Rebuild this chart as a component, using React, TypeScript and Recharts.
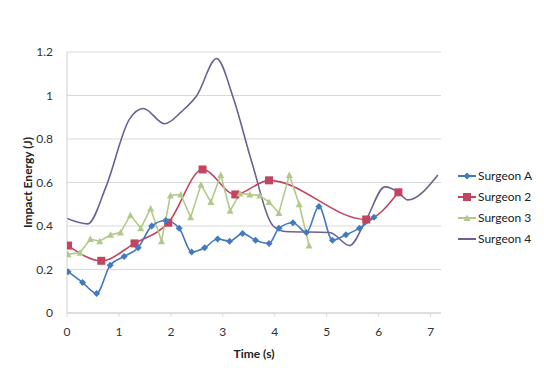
import { LineChart, Line, XAxis, YAxis, CartesianGrid } from 'recharts';

const FONT = 'Lato, "Open Sans", sans-serif';

const surgeonATime = [0.02, 0.3, 0.57, 0.83, 1.1, 1.37, 1.63, 1.9, 2.16, 2.4, 2.65, 2.9, 3.13, 3.38, 3.63, 3.89, 4.08, 4.35, 4.61, 4.85, 5.11, 5.37, 5.63, 5.91];
const surgeonAEnergy = [0.19, 0.14, 0.09, 0.22, 0.26, 0.3, 0.4, 0.425, 0.39, 0.28, 0.3, 0.34, 0.33, 0.365, 0.335, 0.32, 0.39, 0.415, 0.37, 0.49, 0.335, 0.36, 0.39, 0.44];

const surgeon2Time = [0.02, 0.66, 1.3, 1.95, 2.61, 3.24, 3.89, 5.76, 6.38];
const surgeon2Energy = [0.31, 0.24, 0.32, 0.415, 0.66, 0.545, 0.61, 0.43, 0.555];

const surgeon3Time = [0.02, 0.25, 0.45, 0.63, 0.84, 1.03, 1.22, 1.42, 1.61, 1.82, 1.99, 2.19, 2.38, 2.58, 2.77, 2.96, 3.14, 3.33, 3.52, 3.71, 3.89, 4.08, 4.28, 4.47, 4.66];
const surgeon3Energy = [0.27, 0.277, 0.34, 0.33, 0.36, 0.37, 0.45, 0.39, 0.48, 0.33, 0.54, 0.545, 0.44, 0.59, 0.51, 0.635, 0.47, 0.55, 0.545, 0.54, 0.51, 0.46, 0.635, 0.5, 0.31];

const surgeon4Time = [0, 0.4, 0.75, 1.2, 1.47, 1.88, 2.2, 2.5, 2.88, 3.2, 3.55, 3.97, 4.2, 5.06, 5.44, 5.76, 6.12, 6.38, 6.56, 7.14];
const surgeon4Energy = [0.435, 0.41, 0.58, 0.89, 0.94, 0.87, 0.925, 1.0, 1.17, 0.99, 0.7, 0.4, 0.375, 0.37, 0.31, 0.43, 0.58, 0.555, 0.52, 0.635];

const xTicks = [0, 1, 2, 3, 4, 5, 6, 7];
const yTicks = [0, 0.2, 0.4, 0.6, 0.8, 1, 1.2];

const toPoints = (ts: number[], vs: number[]) => ts.map((t, i) => ({ t, v: vs[i] }));

const COLORS = {
  a: '#4279bf',
  two: '#c2455f',
  three: '#b3c98a',
  four: '#6f5f92',
};

const Diamond = (props: any) => {
  const { cx, cy } = props;
  if (cx == null || cy == null) return null;
  return <path d={`M${cx},${cy - 3.5}L${cx + 3.5},${cy}L${cx},${cy + 3.5}L${cx - 3.5},${cy}Z`} fill={COLORS.a} />;
};

const Square = (props: any) => {
  const { cx, cy } = props;
  if (cx == null || cy == null) return null;
  return <rect x={cx - 4} y={cy - 4} width={8} height={8} fill={COLORS.two} />;
};

const Triangle = (props: any) => {
  const { cx, cy } = props;
  if (cx == null || cy == null) return null;
  return <path d={`M${cx},${cy - 3.5}L${cx + 3.5},${cy + 3}L${cx - 3.5},${cy + 3}Z`} fill={COLORS.three} />;
};

const legendItems = [
  { name: 'Surgeon A', color: COLORS.a, marker: 'diamond' },
  { name: 'Surgeon 2', color: COLORS.two, marker: 'square' },
  { name: 'Surgeon 3', color: COLORS.three, marker: 'triangle' },
  { name: 'Surgeon 4', color: COLORS.four, marker: 'none' },
];

// legend sits to the right of the plot, outside the chart layout
function ChartLegend() {
  return (
    <div style={{ position: 'absolute', left: 458, top: 165, fontFamily: FONT, fontSize: 12, color: '#222' }}>
      {legendItems.map((item) => (
        <div key={item.name} style={{ display: 'flex', alignItems: 'center', height: 21 }}>
          <svg width={18} height={10} style={{ marginRight: 2 }}>
            <line x1={0} y1={5} x2={18} y2={5} stroke={item.color} strokeWidth={2} />
            {item.marker === 'diamond' && <path d="M9,1.5L12.5,5L9,8.5L5.5,5Z" fill={item.color} />}
            {item.marker === 'square' && <rect x={5} y={1} width={8} height={8} fill={item.color} />}
            {item.marker === 'triangle' && <path d="M9,1.5L12.5,8L5.5,8Z" fill={item.color} />}
          </svg>
          {item.name}
        </div>
      ))}
    </div>
  );
}

export default function App() {
  return (
    <div style={{ position: 'absolute', left: 0, top: 0, width: 544, height: 385, background: '#fff' }}>
      <LineChart width={544} height={385} margin={{ top: 52, right: 103, bottom: 0, left: 0 }}>
        <CartesianGrid vertical={false} stroke="#d9d9d9" />
        <XAxis
          type="number"
          dataKey="t"
          domain={[0, 7.2]}
          ticks={xTicks}
          allowDataOverflow
          height={72}
          tick={{ fill: '#333', fontSize: 12, fontFamily: FONT }}
          tickSize={4}
          tickMargin={10}
          tickLine={{ stroke: '#d9d9d9' }}
          axisLine={{ stroke: '#d0d0d0' }}
          label={{ value: 'Time (s)', position: 'insideTop', offset: 36, fill: '#222', fontSize: 12, fontWeight: 'bold', fontFamily: FONT }}
        />
        <YAxis
          type="number"
          domain={[0, 1.2]}
          ticks={yTicks}
          width={67}
          tick={{ fill: '#333', fontSize: 12, fontFamily: FONT }}
          tickSize={0}
          tickMargin={14}
          tickLine={false}
          axisLine={{ stroke: '#d0d0d0' }}
          label={{ value: 'Impact Energy (J)', angle: -90, position: 'center', dx: -6, fill: '#222', fontSize: 12, fontWeight: 'bold', fontFamily: FONT }}
        />
        <Line data={toPoints(surgeon4Time, surgeon4Energy)} dataKey="v" name="Surgeon 4" type="monotone" stroke={COLORS.four} strokeWidth={1.6} dot={false} isAnimationActive={false} />
        <Line data={toPoints(surgeon2Time, surgeon2Energy)} dataKey="v" name="Surgeon 2" type="monotone" stroke={COLORS.two} strokeWidth={1.6} dot={<Square />} isAnimationActive={false} />
        <Line data={toPoints(surgeon3Time, surgeon3Energy)} dataKey="v" name="Surgeon 3" type="linear" stroke={COLORS.three} strokeWidth={1.6} dot={<Triangle />} isAnimationActive={false} />
        <Line data={toPoints(surgeonATime, surgeonAEnergy)} dataKey="v" name="Surgeon A" type="monotone" stroke={COLORS.a} strokeWidth={1.6} dot={<Diamond />} isAnimationActive={false} />
      </LineChart>
      <ChartLegend />
    </div>
  );
}
